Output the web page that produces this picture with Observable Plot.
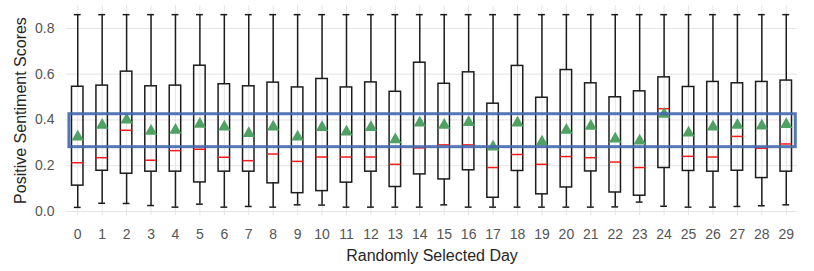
<!DOCTYPE html>
<html>
<head>
<meta charset="utf-8">
<script src="https://cdn.jsdelivr.net/npm/d3@7"></script>
<script src="https://cdn.jsdelivr.net/npm/@observablehq/plot@0.6"></script>
<style>
  html, body { margin: 0; padding: 0; background: #fff; }
  #chart { width: 814px; height: 271px; }
</style>
</head>
<body>
<div id="chart"></div>
<script>
const days = d3.range(30);
const whiskerHigh = [0.86,0.86,0.86,0.86,0.86,0.86,0.86,0.86,0.86,0.86,0.86,0.86,0.86,0.86,0.86,0.86,0.86,0.86,0.86,0.86,0.86,0.86,0.86,0.86,0.86,0.86,0.86,0.86,0.86,0.86];
const q3 = [0.545,0.550,0.611,0.547,0.550,0.637,0.556,0.547,0.563,0.542,0.579,0.542,0.564,0.523,0.650,0.558,0.608,0.471,0.636,0.497,0.618,0.560,0.499,0.525,0.586,0.544,0.566,0.560,0.566,0.572];
const medians = [0.213,0.235,0.355,0.224,0.266,0.272,0.237,0.222,0.251,0.219,0.238,0.238,0.238,0.206,0.278,0.291,0.291,0.192,0.249,0.206,0.240,0.235,0.216,0.192,0.449,0.241,0.238,0.328,0.276,0.295];
const q1 = [0.113,0.178,0.165,0.174,0.174,0.127,0.174,0.174,0.123,0.080,0.089,0.126,0.174,0.107,0.162,0.140,0.180,0.060,0.177,0.075,0.105,0.175,0.083,0.069,0.190,0.177,0.174,0.178,0.146,0.174];
const whiskerLow = [0.018,0.036,0.035,0.026,0.019,0.032,0.019,0.022,0.019,0.029,0.028,0.019,0.019,0.019,0.019,0.029,0.019,0.019,0.019,0.019,0.019,0.019,0.020,0.041,0.023,0.019,0.019,0.022,0.025,0.029];
const means = [0.326,0.377,0.400,0.351,0.355,0.382,0.370,0.341,0.370,0.326,0.367,0.348,0.367,0.314,0.387,0.377,0.389,0.282,0.387,0.304,0.355,0.373,0.317,0.308,0.425,0.343,0.370,0.377,0.374,0.380];
const yTicks = [0, 0.2, 0.4, 0.6, 0.8];
const bandLow = 0.281, bandHigh = 0.425;
const bandStart = -0.34, bandEnd = 29.39;

const data = days.map((d, i) => ({
  day: d, lo: whiskerLow[i], q1: q1[i], med: medians[i], q3: q3[i], hi: whiskerHigh[i], mean: means[i]
}));

const halfBox = 0.235, halfCap = 0.14;
const ink = "#1c1c1c";

const chart = Plot.plot({
  width: 814,
  height: 271,
  marginLeft: 66,
  marginRight: 17,
  marginTop: 5,
  marginBottom: 56,
  style: { fontFamily: "'Liberation Sans', Arial, sans-serif", fontSize: "14px", background: "#fff" },
  x: { domain: [-0.46, 29.46], axis: null },
  y: { domain: [-0.0175, 0.9], axis: null },
  marks: [
    Plot.gridX(days, { stroke: "#e4e4e4", strokeOpacity: 1, strokeWidth: 1 }),
    Plot.gridY(yTicks, { stroke: "#e4e4e4", strokeOpacity: 1, strokeWidth: 1 }),
    Plot.axisX(days, { tickSize: 0, tickPadding: 14, fill: "#555", fontSize: 14, tickFormat: d => String(d), label: null }),
    Plot.axisY(yTicks, { tickSize: 0, tickPadding: 12, fill: "#555", fontSize: 14, tickFormat: d3.format(".1f"), label: null }),
    // whiskers
    Plot.ruleX(data, { x: "day", y1: "lo", y2: "q1", stroke: ink, strokeWidth: 1.5 }),
    Plot.ruleX(data, { x: "day", y1: "q3", y2: "hi", stroke: ink, strokeWidth: 1.5 }),
    // caps
    Plot.ruleY(data, { y: "hi", x1: d => d.day - halfCap, x2: d => d.day + halfCap, stroke: ink, strokeWidth: 1.5 }),
    Plot.ruleY(data, { y: "lo", x1: d => d.day - halfCap, x2: d => d.day + halfCap, stroke: ink, strokeWidth: 1.5 }),
    // boxes
    Plot.rect(data, { x1: d => d.day - halfBox, x2: d => d.day + halfBox, y1: "q1", y2: "q3", fill: "none", stroke: ink, strokeWidth: 1.5 }),
    // medians
    Plot.ruleY(data, { y: "med", x1: d => d.day - halfBox, x2: d => d.day + halfBox, stroke: "#ff1a1a", strokeWidth: 1.5 }),
    // means
    Plot.dot(data, { x: "day", y: "mean", symbol: "triangle", r: 4.6, fill: "#4fa264", stroke: "none" }),
    // highlight band
    Plot.rect([{ x1: bandStart, x2: bandEnd, y1: bandLow, y2: bandHigh }], { x1: "x1", x2: "x2", y1: "y1", y2: "y2", fill: "none", stroke: "#4468ad", strokeOpacity: 0.9, strokeWidth: 3 }),
    // titles
    Plot.text(["Randomly Selected Day"], { frameAnchor: "bottom", dy: 40, lineAnchor: "middle", fontSize: 16, fill: "#262626" }),
    Plot.text(["Positive Sentiment Scores"], { frameAnchor: "left", dx: -46, rotate: -90, textAnchor: "middle", lineAnchor: "middle", fontSize: 16, fill: "#262626" })
  ]
});
document.getElementById("chart").appendChild(chart);
</script>
</body>
</html>
